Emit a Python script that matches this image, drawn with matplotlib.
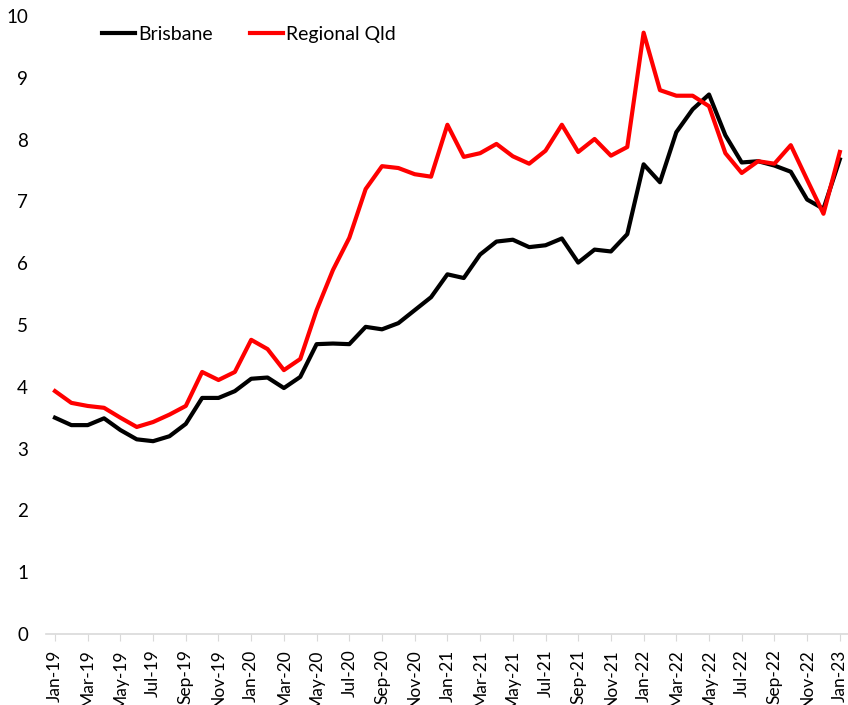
import numpy as np
import pandas as pd
import matplotlib
matplotlib.use("Agg")
import matplotlib.pyplot as plt

months = pd.date_range("2019-01-01", "2023-01-01", freq="MS")
tick_labels = [d.strftime("%b-%y") for d in months]

brisbane = [3.50, 3.38, 3.38, 3.49, 3.30, 3.15, 3.12, 3.20, 3.40, 3.82,
            3.82, 3.93, 4.13, 4.15, 3.98, 4.16, 4.69, 4.70, 4.69, 4.97,
            4.93, 5.03, 5.24, 5.45, 5.82, 5.76, 6.14, 6.35, 6.38, 6.26,
            6.29, 6.40, 6.01, 6.22, 6.19, 6.47, 7.60, 7.31, 8.12, 8.49,
            8.73, 8.07, 7.63, 7.65, 7.58, 7.48, 7.03, 6.88, 7.68]

regional_qld = [3.93, 3.74, 3.69, 3.66, 3.50, 3.35, 3.43, 3.55, 3.69, 4.24,
                4.11, 4.24, 4.76, 4.61, 4.27, 4.45, 5.24, 5.89, 6.41, 7.20,
                7.57, 7.54, 7.44, 7.40, 8.24, 7.72, 7.78, 7.93, 7.73, 7.61,
                7.82, 8.24, 7.80, 8.01, 7.74, 7.88, 9.73, 8.80, 8.71, 8.71,
                8.54, 7.78, 7.46, 7.65, 7.61, 7.91, 7.35, 6.80, 7.80]

plt.rcParams['font.family'] = ['Lato', 'DejaVu Sans']

fig = plt.figure(figsize=(8.48, 7.05), dpi=100)
ax = fig.add_axes([46 / 848, 1 - 634 / 705, 1 - 46 / 848, 618 / 705])

x = np.arange(len(months))
ax.plot(x, brisbane, color="black", lw=3, label="Brisbane")
ax.plot(x, regional_qld, color="#ff0000", lw=3, label="Regional Qld")

ax.set_ylim(0, 10)
ax.set_xlim(-0.55, len(months) - 0.5)
ax.set_yticks(range(0, 11))
ax.set_xticks(x[::2])
ax.set_xticklabels(tick_labels[::2], rotation=90, fontsize=12.5)
ax.tick_params(axis="y", length=0, pad=13, labelsize=13.5)
ax.tick_params(axis="x", length=5, color="#d9d9d9", pad=6)

for s in ["top", "right", "left"]:
    ax.spines[s].set_visible(False)
ax.spines["bottom"].set_color("#d9d9d9")
ax.spines["bottom"].set_linewidth(1.2)

ax.legend(loc="upper left", bbox_to_anchor=(0.058, 1.0), ncol=2, frameon=False,
          fontsize=14, handlelength=1.7, handletextpad=0.15, columnspacing=1.9,
          borderaxespad=0.1)

fig.savefig("out.png", dpi=100)
